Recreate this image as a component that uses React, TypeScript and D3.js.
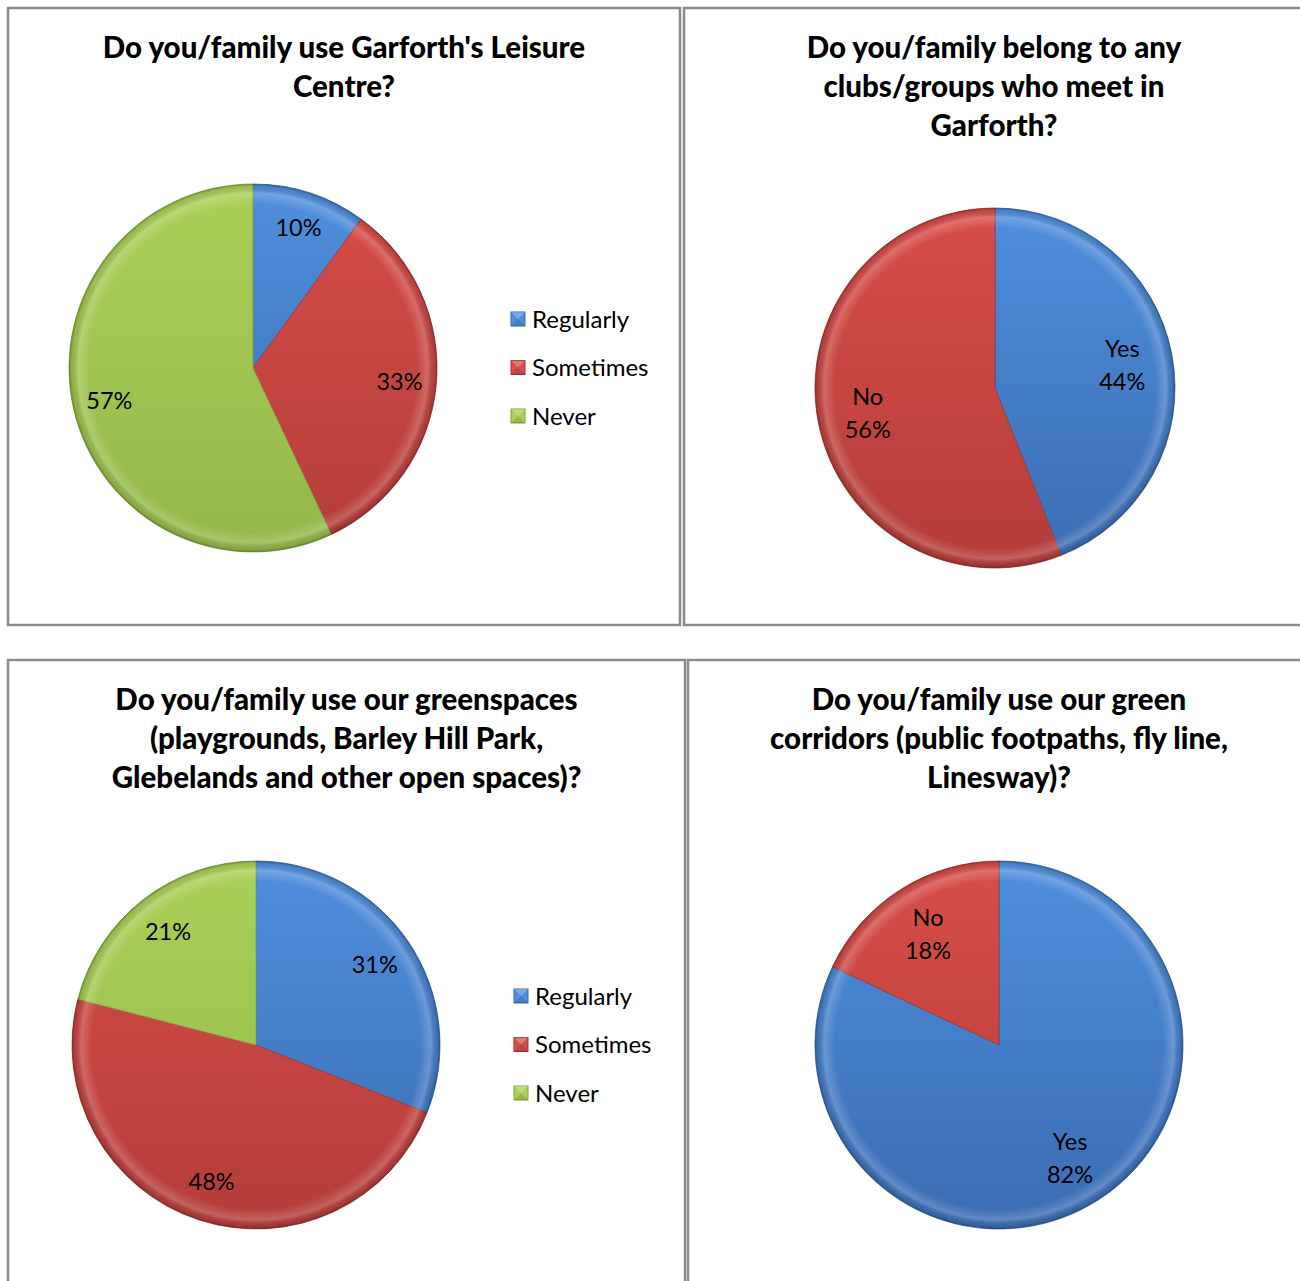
import React from "react";
import * as d3 from "d3";

// ---------- data ----------
const leisureTitle = ["Do you/family use Garforth's Leisure", "Centre?"];
const leisureCategories = ["Regularly", "Sometimes", "Never"];
const leisureValues = [10, 33, 57];

const clubsTitle = ["Do you/family belong to any", "clubs/groups who meet in", "Garforth?"];
const clubsCategories = ["Yes", "No"];
const clubsValues = [44, 56];

const greenTitle = [
  "Do you/family use our greenspaces",
  "(playgrounds, Barley Hill Park,",
  "Glebelands and other open spaces)?",
];
const greenCategories = ["Regularly", "Sometimes", "Never"];
const greenValues = [31, 48, 21];

const corridorTitle = ["Do you/family use our green", "corridors (public footpaths, fly line,", "Linesway)?"];
const corridorCategories = ["Yes", "No"];
const corridorValues = [82, 18];

// ---------- styles ----------
const FONT = "Lato, 'Open Sans', sans-serif";
const palette: Record<string, { top: string; bottom: string; stroke: string }> = {
  blue: { top: "#4f8fde", bottom: "#3a6cb2", stroke: "#3a68a8" },
  red: { top: "#d84e49", bottom: "#b33c39", stroke: "#9e3431" },
  green: { top: "#abd057", bottom: "#93b849", stroke: "#82a33f" },
};
const colorFor: Record<string, string> = {
  Regularly: "blue",
  Sometimes: "red",
  Never: "green",
  Yes: "blue",
  No: "red",
};

type PanelProps = {
  id: string;
  x0: number;
  y0: number;
  x1: number;
  y1: number;
  title: string[];
  categories: string[];
  values: number[];
  cx: number;
  cy: number;
  r: number;
  showCategory: boolean;
  legend: boolean;
  labelFactor: number;
};

function Panel(p: PanelProps) {
  const pie = d3
    .pie<number>()
    .sort(null)
    .value((d) => d)
    .startAngle(0)
    .endAngle(2 * Math.PI);
  const arcs = pie(p.values);
  const arc = d3.arc<d3.PieArcDatum<number>>().innerRadius(0).outerRadius(p.r);
  const labelArc = d3
    .arc<d3.PieArcDatum<number>>()
    .innerRadius(p.r * p.labelFactor)
    .outerRadius(p.r * p.labelFactor);
  const total = d3.sum(p.values);
  const pct = d3.format(".0%");
  const titleCx = (p.x0 + p.x1) / 2;
  const legendY = d3.scalePoint<string>().domain(p.categories).range([p.cy - 49, p.cy + 48]);
  const legendX = p.cx + 258;

  return (
    <g>
      <defs>
        {Object.keys(palette).map((k) => (
          <linearGradient
            key={k}
            id={`${p.id}-${k}`}
            gradientUnits="userSpaceOnUse"
            x1={0}
            y1={-p.r}
            x2={0}
            y2={p.r}
          >
            <stop offset="0" stopColor={palette[k].top} />
            <stop offset="1" stopColor={palette[k].bottom} />
          </linearGradient>
        ))}
        <radialGradient id={`${p.id}-bevel`} gradientUnits="userSpaceOnUse" cx={0} cy={0} r={p.r}>
          <stop offset="0" stopColor="#fff" stopOpacity={0} />
          <stop offset="0.89" stopColor="#fff" stopOpacity={0} />
          <stop offset="0.95" stopColor="#fff" stopOpacity={0.2} />
          <stop offset="0.985" stopColor="#000" stopOpacity={0.08} />
          <stop offset="1" stopColor="#000" stopOpacity={0.3} />
        </radialGradient>
      </defs>
      <rect
        x={p.x0}
        y={p.y0}
        width={p.x1 - p.x0}
        height={p.y1 - p.y0}
        fill="#fff"
        stroke="#8a8a8a"
        strokeWidth={2.5}
      />
      {p.title.map((t, i) => (
        <text
          key={i}
          x={titleCx}
          y={p.y0 + 50 + i * 39}
          textAnchor="middle"
          fontFamily={FONT}
          fontWeight={900}
          fontSize={29.5}
          fill="#000"
        >
          {t}
        </text>
      ))}
      <g transform={`translate(${p.cx},${p.cy})`}>
        {arcs.map((a, i) => {
          const c = colorFor[p.categories[i]];
          return (
            <path
              key={"o" + i}
              d={arc(a) || ""}
              fill={`url(#${p.id}-${c})`}
              stroke={palette[c].stroke}
              strokeWidth={0.8}
            />
          );
        })}
        {arcs.map((a, i) => (
          <path key={"b" + i} d={arc(a) || ""} fill={`url(#${p.id}-bevel)`} />
        ))}
        {arcs.map((a, i) => {
          const [lx, ly] = labelArc.centroid(a);
          const text = pct(a.data / total);
          if (p.showCategory) {
            return (
              <text key={"t" + i} x={lx} y={ly} textAnchor="middle" fontFamily={FONT} fontSize={23.5} fill="#000">
                <tspan x={lx} dy="-0.3em">
                  {p.categories[i]}
                </tspan>
                <tspan x={lx} dy="1.4em">
                  {text}
                </tspan>
              </text>
            );
          }
          return (
            <text
              key={"t" + i}
              x={lx}
              y={ly}
              dy="0.36em"
              textAnchor="middle"
              fontFamily={FONT}
              fontSize={23.5}
              fill="#000"
            >
              {text}
            </text>
          );
        })}
      </g>
      {p.legend &&
        p.categories.map((c, i) => {
          const y = legendY(c) as number;
          const k = colorFor[c];
          return (
            <g key={"lg" + i} transform={`translate(${legendX},${y})`}>
              <rect x={0} y={-7} width={14} height={14} fill={palette[k].top} stroke={palette[k].stroke} strokeWidth={1} />
              <path d="M0,-7 L7,0 L14,-7 Z" fill="#fff" opacity={0.25} />
              <path d="M0,7 L7,0 L14,7 Z" fill="#000" opacity={0.12} />
              <text x={21} y={0} dy="0.36em" fontFamily={FONT} fontSize={24} fill="#000">
                {c}
              </text>
            </g>
          );
        })}
    </g>
  );
}

export default function App() {
  return (
    <svg
      width={1300}
      height={1281}
      style={{ position: "absolute", left: 0, top: 0, display: "block", background: "#fff" }}
    >
      <Panel
        id="p1"
        x0={8}
        y0={8}
        x1={680}
        y1={625}
        title={leisureTitle}
        categories={leisureCategories}
        values={leisureValues}
        cx={253}
        cy={368}
        r={184}
        showCategory={false}
        legend={true}
        labelFactor={0.8}
      />
      <Panel
        id="p2"
        x0={684}
        y0={8}
        x1={1304}
        y1={625}
        title={clubsTitle}
        categories={clubsCategories}
        values={clubsValues}
        cx={995}
        cy={388}
        r={180}
        showCategory={true}
        legend={false}
        labelFactor={0.72}
      />
      <Panel
        id="p3"
        x0={8}
        y0={660}
        x1={685}
        y1={1290}
        title={greenTitle}
        categories={greenCategories}
        values={greenValues}
        cx={256}
        cy={1045}
        r={184}
        showCategory={false}
        legend={true}
        labelFactor={0.78}
      />
      <Panel
        id="p4"
        x0={688}
        y0={660}
        x1={1310}
        y1={1290}
        title={corridorTitle}
        categories={corridorCategories}
        values={corridorValues}
        cx={999}
        cy={1045}
        r={184}
        showCategory={true}
        legend={false}
        labelFactor={0.72}
      />
    </svg>
  );
}
